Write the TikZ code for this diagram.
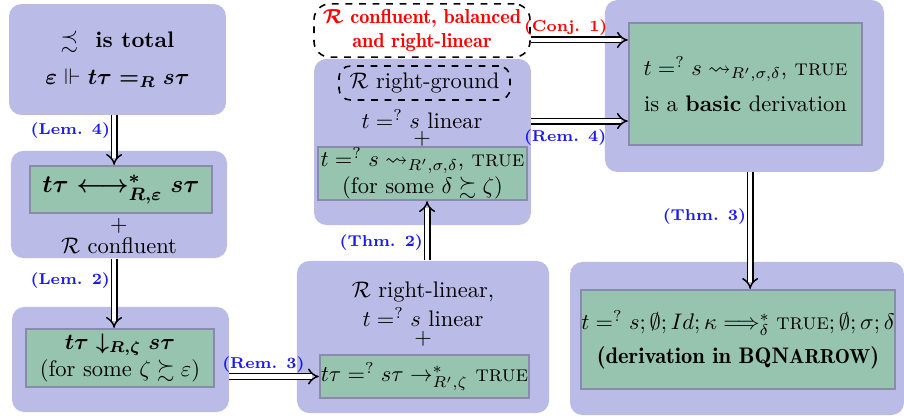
\documentclass[tikz,border=0pt]{standalone}
\usepackage{amsmath,amssymb}
\usepackage{xcolor}
\usepackage{tikz}
\usetikzlibrary{arrows.meta,positioning,calc}
\definecolor{grpfill}{HTML}{BBBBE8}
\definecolor{resfill}{HTML}{96C4AE}
\definecolor{resline}{HTML}{8A8AAC}
\definecolor{refblue}{HTML}{1A1AF0}
\newcommand{\TRUE}{\textnormal{\textsc{true}}}
\newcommand{\BQN}{BQN{\small ARROW}}

\begin{document}
\begin{tikzpicture}[
    x=0.4444pt, y=-0.4444pt,
    grp/.style={fill=grpfill,rounded corners=5.5pt,inner sep=0pt,align=center},
    res/.style={draw=resline,line width=1pt,fill=resfill,align=center,inner sep=0pt},
    cond/.style={draw,dashed,line width=0.7pt,rounded corners=5pt,align=center,inner sep=0pt},
    txt/.style={align=center,inner sep=0pt},
    imp/.style={double,double distance=1.8pt,line width=0.65pt,-{Implies[length=4.5pt,width=9pt]}},
    ref/.style={font=\scriptsize\bfseries,text=refblue,inner sep=1.5pt},
    >=Latex
  ]
    \useasboundingbox (0,0) rectangle (904,418);
    % left column
    \node[grp,minimum width=96.4pt,minimum height=49.3pt,font=\bfseries\boldmath] (total) at (117.5,59.5)
      {$\precsim$\ \ is total\\[4.5pt] $\varepsilon \Vdash t\tau =_R s\tau$};
    \node[grp,minimum width=96pt,minimum height=47.6pt] (b2) at (119,204.5) {};
    \node[res,minimum width=80.9pt,minimum height=20.9pt,font=\fontsize{11}{13}\selectfont\boldmath] (conv) at (121,189.5)
      {$t\tau \longleftrightarrow^{*}_{R,\varepsilon} s\tau$};
    \node[txt] (plusa) at (119,226) {+};
    \node[txt] (confl) at (119,246) {$\mathcal{R}$ confluent};
    \node[grp,minimum width=96.4pt,minimum height=46.7pt] (b3) at (120.5,359.5) {};
    \node[res,minimum width=83.6pt,minimum height=25.8pt] (join) at (120,358)
      {{\boldmath$t\tau \downarrow_{R,\zeta} s\tau$}\\(for some $\zeta \succsim \varepsilon$)};
    % middle column
    \node[grp,minimum width=112pt,minimum height=67.6pt] (b4) at (423,337) {};
    \node[txt] (rlin) at (423,292) {$\mathcal{R}$ right-linear,};
    \node[txt] (linb) at (423,317) {$t =^{?} s$ linear};
    \node[txt] (plusb) at (423,339) {+};
    \node[res,minimum width=92.9pt,minimum height=19.1pt] (narrow) at (424.5,376.5)
      {$t\tau =^{?} s\tau \to^{*}_{R',\zeta}$ \TRUE};
    \node[grp,minimum width=96.4pt,minimum height=73.8pt] (b5) at (422.5,142) {};
    \node[cond,minimum width=76pt,minimum height=15.1pt] (ground) at (424.5,83) {$\mathcal{R}$ right-ground};
    \node[txt] (lina) at (422,119) {$t =^{?} s$ linear};
    \node[txt] (plusc) at (422,139) {+};
    \node[res,minimum width=92.9pt,minimum height=23.6pt] (lin) at (422.5,173.5)
      {$t =^{?} s \rightsquigarrow_{R',\sigma,\delta}$, \TRUE\\(for some $\delta \succsim \zeta$)};
    \node[cond,fill=white,minimum width=96pt,minimum height=23.6pt,rounded corners=7pt,
      text=red,font=\small\fontseries{b}\selectfont\boldmath] (conj) at (422,30.5)
      {$\mathcal{R}$ confluent, balanced\\and right-linear};
    % right column
    \node[grp,minimum width=124pt,minimum height=76.4pt] (b7) at (744.5,86) {};
    \node[res,minimum width=103.6pt,minimum height=54.2pt] (basic) at (745.5,84)
      {$t =^{?} s \rightsquigarrow_{R',\sigma,\delta}$, \TRUE\\[4pt] is a \textbf{basic} derivation};
    \node[grp,minimum width=148.4pt,minimum height=68pt] (b8) at (737,338.5) {};
    \node[res,minimum width=138.7pt,minimum height=44pt,font=\fontseries{b}\selectfont] (deriv) at (738,339.5)
      {$t =^{?} s; \emptyset; Id; \kappa \Longrightarrow^{*}_{\delta} \TRUE; \emptyset; \sigma; \delta$\\[3pt](derivation in \BQN)};
    % implications
    \draw[imp] ([xshift=-1.5pt]total.south) -- ([xshift=-1.5pt]total.south |- conv.north)
      node[ref,left,pos=0.3] (lem4) {(Lem. 4)};
    \draw[imp] ([xshift=-2.2pt]b2.south) -- ([xshift=-2.2pt]b2.south |- join.north)
      node[ref,left,pos=0.32] (lem2) {(Lem. 2)};
    \draw[imp] (b3.east |- narrow.west) -- (narrow.west)
      node[ref,above,pos=0.38] (rem3) {(Rem. 3)};
    \draw[imp] ([xshift=1.8pt]b4.north) -- ([xshift=1.8pt]b4.north |- lin.south)
      node[ref,left,pos=0.3] (thm2) {(Thm. 2)};
    \draw[imp] ([yshift=-4.2pt]conj.east) -- ([yshift=-4.2pt]conj.east -| basic.west)
      node[ref,above,pos=0.36,text=red] (conj1) {(Conj. 1)};
    \draw[imp] ([yshift=9.3pt]b5.east) -- ([yshift=9.3pt]b5.east -| basic.west)
      node[ref,below,pos=0.35,yshift=-2pt] (rem4) {(Rem. 4)};
    \draw[imp] ([xshift=2.5pt]b7.south) -- ([xshift=2.5pt]b7.south |- deriv.north)
      node[ref,left,pos=0.38] (thm3) {(Thm. 3)};
  \end{tikzpicture}
\end{document}
